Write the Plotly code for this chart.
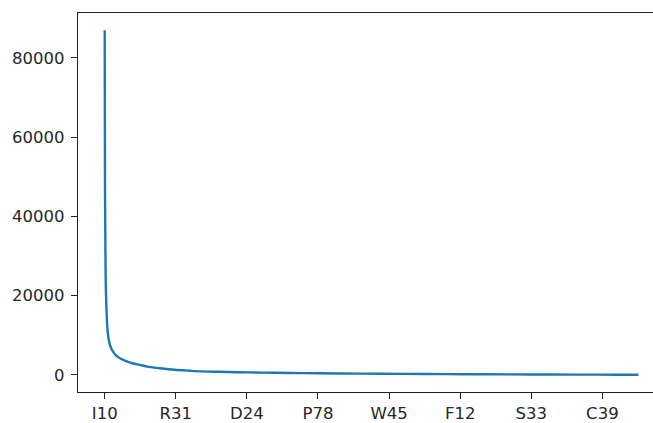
import plotly.graph_objects as go

# rank positions (category index) and counts
rank_index = [0, 1, 2, 3, 4, 6, 8, 10, 13, 16, 20, 25, 30, 36, 45, 55, 65, 80,
              100, 124, 150, 194, 246, 300, 335, 400, 469, 550, 650, 750, 900,
              1050, 1200, 1350, 1500, 1650, 1800, 1877]
counts = [87000, 48000, 36000, 27000, 22000, 17000, 13500, 11200, 9400, 8200,
          7200, 6400, 5800, 5200, 4600, 4100, 3750, 3300, 2850, 2500, 2050,
          1650, 1250, 1000, 850, 750, 650, 550, 450, 380, 300, 230, 170, 120,
          80, 45, 15, 1]

tick_positions = [0, 250, 500, 750, 1000, 1250, 1500, 1750]
tick_labels = ["I10", "R31", "D24", "P78", "W45", "F12", "S33", "C39"]
y_ticks = [0, 20000, 40000, 60000, 80000]

fig = go.Figure()
fig.add_trace(go.Scatter(x=rank_index, y=counts, mode="lines",
                         line=dict(color="#1f77b4", width=2.4, shape="spline",
                                   smoothing=0.6),
                         hoverinfo="skip", showlegend=False))

axis_font = dict(family="DejaVu Sans", size=16.5, color="#262626")
fig.update_layout(
    width=653, height=423,
    margin=dict(l=78, r=0, t=13, b=28),
    paper_bgcolor="white", plot_bgcolor="white",
    xaxis=dict(range=[-93.9, 1928], tickmode="array", tickvals=tick_positions,
               ticktext=tick_labels, showline=True, linecolor="#222222",
               linewidth=1.2, mirror=True, ticks="outside", ticklen=6,
               tickcolor="#222222", tickwidth=1.2, showgrid=False,
               zeroline=False, tickfont=axis_font, ticklabelstandoff=0),
    yaxis=dict(range=[-4350, 91350], tickmode="array", tickvals=y_ticks,
               ticktext=[str(v) for v in y_ticks], showline=True,
               linecolor="#222222", linewidth=1.2, mirror=False,
               ticks="outside", ticklen=6, tickcolor="#222222", tickwidth=1.2,
               showgrid=False, zeroline=False, tickfont=axis_font,
               ticklabelstandoff=3),
)

fig.write_html("out.html")
